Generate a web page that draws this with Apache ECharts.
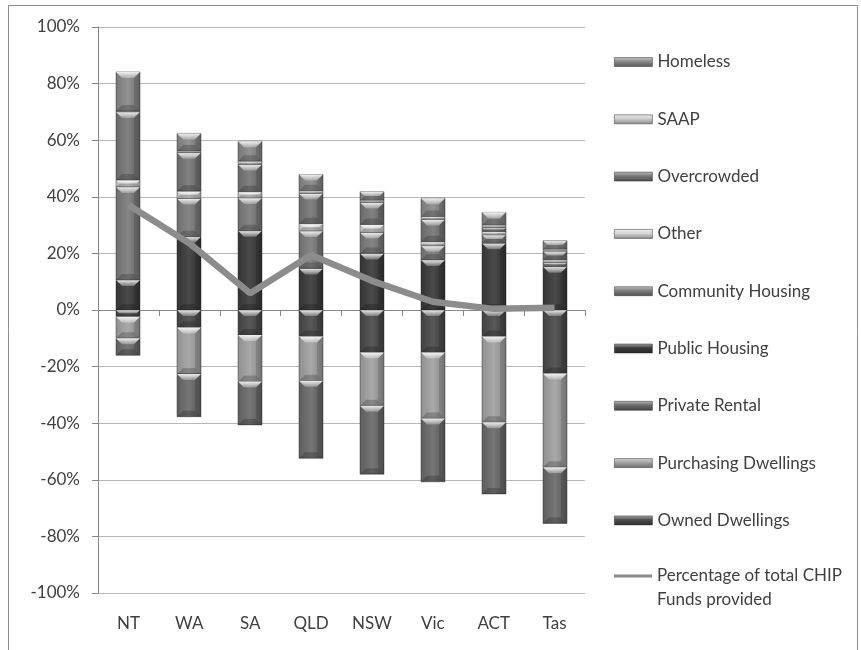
<!DOCTYPE html>
<html>
<head>
<meta charset="utf-8">
<script src="https://cdn.jsdelivr.net/npm/echarts@6/dist/echarts.min.js"></script>
<style>
  html, body { margin: 0; padding: 0; background: #ffffff; }
  #chart { width: 861px; height: 650px; }
</style>
</head>
<body>
<div id="chart"></div>
<script>
// States / territories along the horizontal axis
const categories = ['NT', 'WA', 'SA', 'QLD', 'NSW', 'Vic', 'ACT', 'Tas'];

// Tenure / need groups, in stacking order (first is stacked nearest zero)
const ownedDwellings      = [-2.4, -6.2, -8.8, -9.4, -15.0, -15.0, -9.4, -22.4];
const purchasingDwellings = [-7.6, -16.4, -16.5, -15.6, -18.8, -23.3, -30.3, -33.2];
const privateRental       = [-6.0, -15.1, -15.3, -27.4, -24.2, -22.4, -25.3, -19.8];
const publicHousing       = [10.6, 25.9, 28.0, 14.7, 20.0, 17.7, 23.6, 15.3];
const communityHousing    = [32.9, 13.5, 11.6, 13.2, 7.4, 5.0, 2.9, 1.5];
const otherTenure         = [2.4, 2.6, 2.2, 2.6, 2.8, 1.4, 1.2, 0.9];
const overcrowded         = [24.1, 13.6, 9.6, 10.7, 7.8, 7.9, 1.4, 3.1];
const saap                = [0.3, 0.6, 1.2, 0.9, 0.8, 1.0, 0.9, 0.7];
const homeless            = [13.8, 6.2, 7.0, 5.8, 3.0, 6.5, 4.5, 3.0];

// Share of total CHIP funds, drawn as a line
const chipShare = [37.1, 23.6, 5.9, 19.4, 10.3, 2.9, 0.4, 0.8];

// Value axis tick settings (percent)
const yMin = -100, yMax = 100, yStep = 20;

const groups = [
  { name: 'Owned Dwellings',      values: ownedDwellings,      color: '#4a4a4a' },
  { name: 'Purchasing Dwellings', values: purchasingDwellings, color: '#a2a2a2' },
  { name: 'Private Rental',       values: privateRental,       color: '#6a6a6a' },
  { name: 'Public Housing',       values: publicHousing,       color: '#3a3a3a' },
  { name: 'Community Housing',    values: communityHousing,    color: '#7c7c7c' },
  { name: 'Other',                values: otherTenure,         color: '#d6d6d6' },
  { name: 'Overcrowded',          values: overcrowded,         color: '#767676' },
  { name: 'SAAP',                 values: saap,                color: '#cdcdcd' },
  { name: 'Homeless',             values: homeless,            color: '#888888' }
];
const lineName = 'Percentage of total CHIP Funds provided';

const textColor = '#404040';
const fontFamily = 'Lato, "Open Sans", sans-serif';

function shade(hex, amt) {
  const n = parseInt(hex.slice(1), 16);
  let r = (n >> 16) & 255, g = (n >> 8) & 255, b = n & 255;
  const f = c => Math.max(0, Math.min(255, Math.round(amt >= 0 ? c + (255 - c) * amt : c * (1 + amt))));
  r = f(r); g = f(g); b = f(b);
  return 'rgb(' + r + ',' + g + ',' + b + ')';
}

// Positive values stack upward from zero, negative values stack downward
const posTop = categories.map(() => 0);
const negTop = categories.map(() => 0);
const stacked = groups.map(g => g.values.map((v, i) => {
  let from, to;
  if (v >= 0) { from = posTop[i]; to = from + v; posTop[i] = to; }
  else { from = negTop[i]; to = from + v; negTop[i] = to; }
  return [i, from, to];
}));

// One bevelled block per stacked segment
function makeRenderer(baseColor) {
  return function (params, api) {
    const i = api.value(0);
    const a = api.coord([i, api.value(1)]);
    const c = api.coord([i, api.value(2)]);
    const band = api.size([1, 0])[0];
    const w = Math.round(band * 0.4);
    const x = Math.round(a[0] - w / 2);
    const y0 = Math.min(a[1], c[1]);
    const y1 = Math.max(a[1], c[1]);
    const h = y1 - y0;
    if (h < 0.3) return null;
    const b = Math.min(6, h / 2, w / 2);
    return {
      type: 'group',
      children: [
        {
          type: 'rect',
          shape: { x: x, y: y0, width: w, height: h },
          style: {
            fill: {
              type: 'linear', x: 0, y: 0, x2: 1, y2: 0,
              colorStops: [
                { offset: 0, color: shade(baseColor, -0.12) },
                { offset: 0.5, color: shade(baseColor, 0.08) },
                { offset: 1, color: shade(baseColor, -0.2) }
              ]
            },
            stroke: 'rgba(40,40,40,0.55)',
            lineWidth: 0.8
          }
        },
        {
          type: 'polygon',
          shape: { points: [[x, y0], [x + w, y0], [x + w - b, y0 + b], [x + b, y0 + b]] },
          style: {
            fill: {
              type: 'linear', x: 0, y: 0, x2: 0, y2: 1,
              colorStops: [
                { offset: 0, color: 'rgba(255,255,255,0.9)' },
                { offset: 1, color: 'rgba(255,255,255,0.25)' }
              ]
            }
          }
        },
        {
          type: 'polygon',
          shape: { points: [[x, y1], [x + w, y1], [x + w - b, y1 - b], [x + b, y1 - b]] },
          style: { fill: 'rgba(0,0,0,0.2)' }
        },
        {
          type: 'polygon',
          shape: { points: [[x + w, y0], [x + w - b, y0 + b], [x + w - b, y1 - b], [x + w, y1]] },
          style: { fill: 'rgba(0,0,0,0.12)' }
        }
      ]
    };
  };
}

const barSeries = groups.map((g, k) => ({
  name: g.name,
  type: 'custom',
  coordinateSystem: 'cartesian2d',
  xAxisIndex: 0,
  yAxisIndex: 0,
  renderItem: makeRenderer(g.color),
  itemStyle: { color: g.color },
  encode: { x: 0, y: [1, 2] },
  data: stacked[k],
  z: 2,
  silent: true
}));

const legendBars = groups.slice().reverse().map(g => ({
  name: g.name,
  icon: 'rect',
  itemStyle: {
    color: {
      type: 'linear', x: 0, y: 0, x2: 0, y2: 1,
      colorStops: [
        { offset: 0, color: shade(g.color, 0.55) },
        { offset: 0.45, color: g.color },
        { offset: 1, color: shade(g.color, -0.35) }
      ]
    },
    borderColor: 'rgba(40,40,40,0.6)',
    borderWidth: 0.8
  }
}));

const chart = echarts.init(document.getElementById('chart'), null, { renderer: 'canvas' });
chart.setOption({
  animation: false,
  backgroundColor: '#ffffff',
  textStyle: { fontFamily: fontFamily, color: textColor },
  graphic: [{
    type: 'rect',
    shape: { x: 8.5, y: 5.5, width: 849, height: 700 },
    style: { fill: null, stroke: '#8c8c8c', lineWidth: 1 },
    silent: true,
    z: -1
  }],
  grid: { left: 98, right: 276, top: 27, bottom: 57, containLabel: false },
  xAxis: [
    {
      type: 'category',
      data: categories,
      position: 'bottom',
      axisLine: { show: false, onZero: false },
      axisTick: { show: false },
      axisLabel: { color: textColor, fontSize: 17, fontFamily: fontFamily, margin: 22 },
      splitLine: { show: false }
    },
    {
      type: 'category',
      data: categories,
      position: 'bottom',
      axisLine: { show: true, onZero: true, lineStyle: { color: '#868686', width: 1 } },
      axisTick: { show: true, length: 6, interval: 0, lineStyle: { color: '#868686' } },
      axisLabel: { show: false },
      splitLine: { show: false }
    }
  ],
  yAxis: {
    type: 'value',
    min: yMin,
    max: yMax,
    interval: yStep,
    axisLine: { show: true, lineStyle: { color: '#868686', width: 1 } },
    axisTick: { show: true, length: 6, lineStyle: { color: '#868686' } },
    axisLabel: { color: textColor, fontSize: 17, fontFamily: fontFamily, margin: 18, formatter: '{value}%' },
    splitLine: { show: true, lineStyle: { color: '#b8b8b8', width: 1 } }
  },
  legend: [
    {
      orient: 'vertical',
      left: 609,
      top: 47,
      itemWidth: 38,
      itemHeight: 9,
      itemGap: 37.3,
      selectedMode: false,
      textStyle: { color: textColor, fontSize: 17, fontFamily: fontFamily, lineHeight: 20 },
      data: legendBars
    },
    {
      orient: 'vertical',
      left: 609,
      top: 535,
      itemWidth: 38,
      itemHeight: 3,
      selectedMode: false,
      formatter: () => ' \nPercentage of total CHIP\nFunds provided',
      textStyle: { color: textColor, fontSize: 17, fontFamily: fontFamily, lineHeight: 24 },
      data: [{ name: lineName, icon: 'rect', itemStyle: { color: '#8c8c8c' } }]
    }
  ],
  series: barSeries.concat([{
    name: lineName,
    type: 'line',
    xAxisIndex: 0,
    yAxisIndex: 0,
    data: chipShare,
    showSymbol: false,
    symbol: 'none',
    lineStyle: { color: '#8c8c8c', width: 6.5 },
    itemStyle: { color: '#8c8c8c' },
    z: 5,
    silent: true
  }])
});
</script>
</body>
</html>
